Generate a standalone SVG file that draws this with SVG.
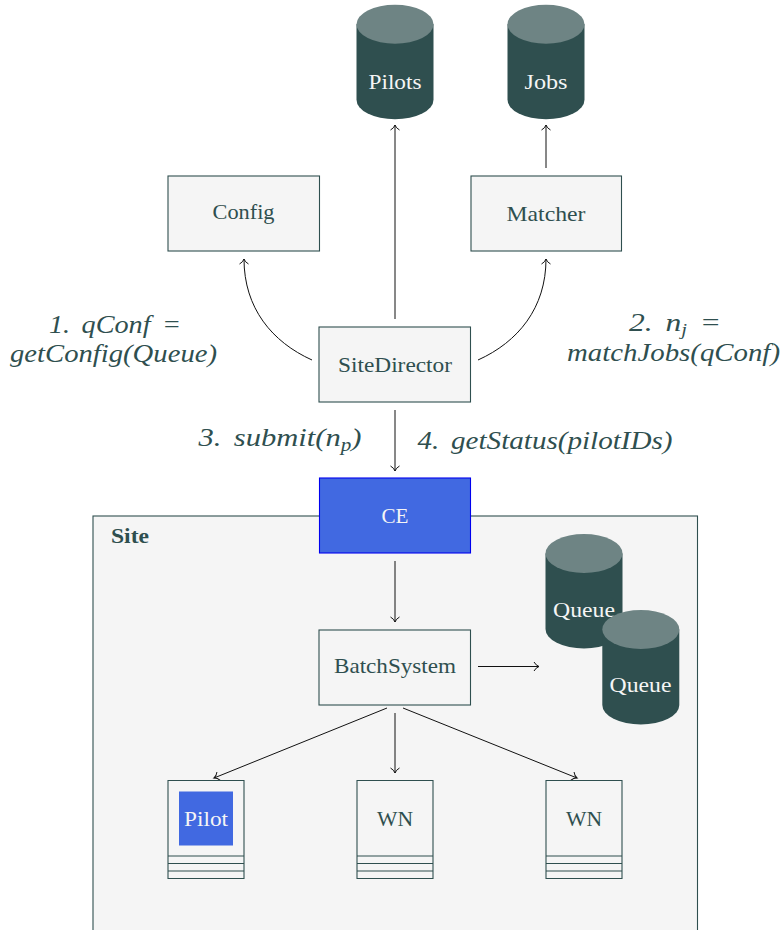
<svg xmlns="http://www.w3.org/2000/svg" width="783" height="930" viewBox="0 0 783 930">
<style>
text{font-family:"Liberation Serif","DejaVu Serif",serif;text-anchor:middle}
.box{fill:#f5f5f5;stroke:#2f4f4f;stroke-width:1.1}
.t{font-size:21.5px;fill:#2f4f4f}
.w{font-size:21.5px;fill:#f5f5f5}
.m{font-size:26px;font-style:italic;fill:#2f4f4f;word-spacing:4px}
.body{fill:#2f4f4f}
.top{fill:#6e8484}
.blue{fill:#4169e1}
.c{fill:none;stroke:#111;stroke-width:1;marker-end:url(#a)}
.l{fill:none;stroke:#2f4f4f;stroke-width:1.1}
</style>
<defs>
<marker id="a" markerUnits="userSpaceOnUse" markerWidth="14" markerHeight="14" refX="8" refY="7" orient="auto">
<path d="M3 2.500Q5 6 8 7Q5 8 3 11.500" fill="none" stroke="#111" stroke-width="1"/>
</marker>
<g id="cyl">
<path class="body" d="M0 19.500V95A38.500 19.500 0 0 0 77 95V19.500Z"/>
<ellipse class="top" cx="38.500" cy="19.500" rx="38.500" ry="19.500"/>
</g>
</defs>
<g id="site"><rect class="box" x="93" y="516" width="604.500" height="420"/><text x="130" y="543" style="font-weight:bold;font-size:21.500px;fill:#2f4f4f" textLength="38" lengthAdjust="spacingAndGlyphs">Site</text></g>
<g id="connectors">
<path class="c" d="M395 319V125"/>
<path class="c" d="M546 168V125"/>
<path class="c" d="M312 360C272 342 244 308 244 259"/>
<path class="c" d="M478 360C518 342 546 308 546 259"/>
<path class="c" d="M395 410V471"/>
<path class="c" d="M395 561V622"/>
<path class="c" d="M478 666.500H539"/>
<path class="c" d="M387 708L214 778"/>
<path class="c" d="M395 713V773"/>
<path class="c" d="M403 708L577 778"/>
</g>
<g id="pilots"><use href="#cyl" x="356.500" y="4.700"/><text class="w" x="395" y="89" textLength="53" lengthAdjust="spacingAndGlyphs">Pilots</text></g>
<g id="jobs"><use href="#cyl" x="507.500" y="4.700"/><text class="w" x="546" y="89" textLength="43" lengthAdjust="spacingAndGlyphs">Jobs</text></g>
<g id="config"><rect class="box" x="168" y="176" width="151.500" height="75"/><text class="t" x="243.500" y="219" textLength="62" lengthAdjust="spacingAndGlyphs">Config</text></g>
<g id="matcher"><rect class="box" x="471" y="176" width="150.500" height="75"/><text class="t" x="546" y="221" textLength="79" lengthAdjust="spacingAndGlyphs">Matcher</text></g>
<g id="sitedirector"><rect class="box" x="319" y="327" width="151.500" height="75"/><text class="t" x="395" y="372" textLength="114" lengthAdjust="spacingAndGlyphs">SiteDirector</text></g>
<g id="ce"><rect x="319.500" y="478" width="151" height="75" fill="#4169e1" stroke="#0000ee" stroke-width="1.100"/><text class="w" x="395" y="523" textLength="27" lengthAdjust="spacingAndGlyphs">CE</text></g>
<g id="batchsystem"><rect class="box" x="319" y="630" width="151.500" height="75"/><text class="t" x="395" y="673" textLength="122" lengthAdjust="spacingAndGlyphs">BatchSystem</text></g>
<g id="queue1"><use href="#cyl" x="545.500" y="534"/><text class="w" x="584" y="617" textLength="62" lengthAdjust="spacingAndGlyphs">Queue</text></g>
<g id="queue2"><use href="#cyl" x="602.300" y="610"/><text class="w" x="640.500" y="692" textLength="62" lengthAdjust="spacingAndGlyphs">Queue</text></g>
<g id="pilotnode"><path class="l" d="M168 780.500H244V878.500H168ZM168 856H244M168 863.500H244M168 871H244"/><rect class="blue" x="179" y="791.500" width="54" height="54"/><text class="w" x="206" y="826" textLength="44" lengthAdjust="spacingAndGlyphs">Pilot</text></g>
<g id="wn1"><path class="l" d="M357 780.500H433V878.500H357ZM357 856H433M357 863.500H433M357 871H433"/><text class="t" x="395" y="826" textLength="36" lengthAdjust="spacingAndGlyphs">WN</text></g>
<g id="wn2"><path class="l" d="M546 780.500H622V878.500H546ZM546 856H622M546 863.500H622M546 871H622"/><text class="t" x="584" y="826" textLength="36" lengthAdjust="spacingAndGlyphs">WN</text></g>
<g id="labels">
<text class="m" x="115" y="333" textLength="132" lengthAdjust="spacingAndGlyphs">1. qConf =</text>
<text class="m" x="113.500" y="362" textLength="207" lengthAdjust="spacingAndGlyphs">getConfig(Queue)</text>
<text class="m" x="675" y="331" textLength="92" lengthAdjust="spacingAndGlyphs">2. n<tspan font-size="17" dy="4">j</tspan><tspan dy="-4"> =</tspan></text>
<text class="m" x="673.500" y="361" textLength="213" lengthAdjust="spacingAndGlyphs">matchJobs(qConf)</text>
<text class="m" x="280" y="446" textLength="163" lengthAdjust="spacingAndGlyphs">3. submit(n<tspan font-size="18" dy="5">p</tspan><tspan dy="-5">)</tspan></text>
<text class="m" x="545" y="449" textLength="255" lengthAdjust="spacingAndGlyphs">4. getStatus(pilotIDs)</text>
</g>
</svg>
